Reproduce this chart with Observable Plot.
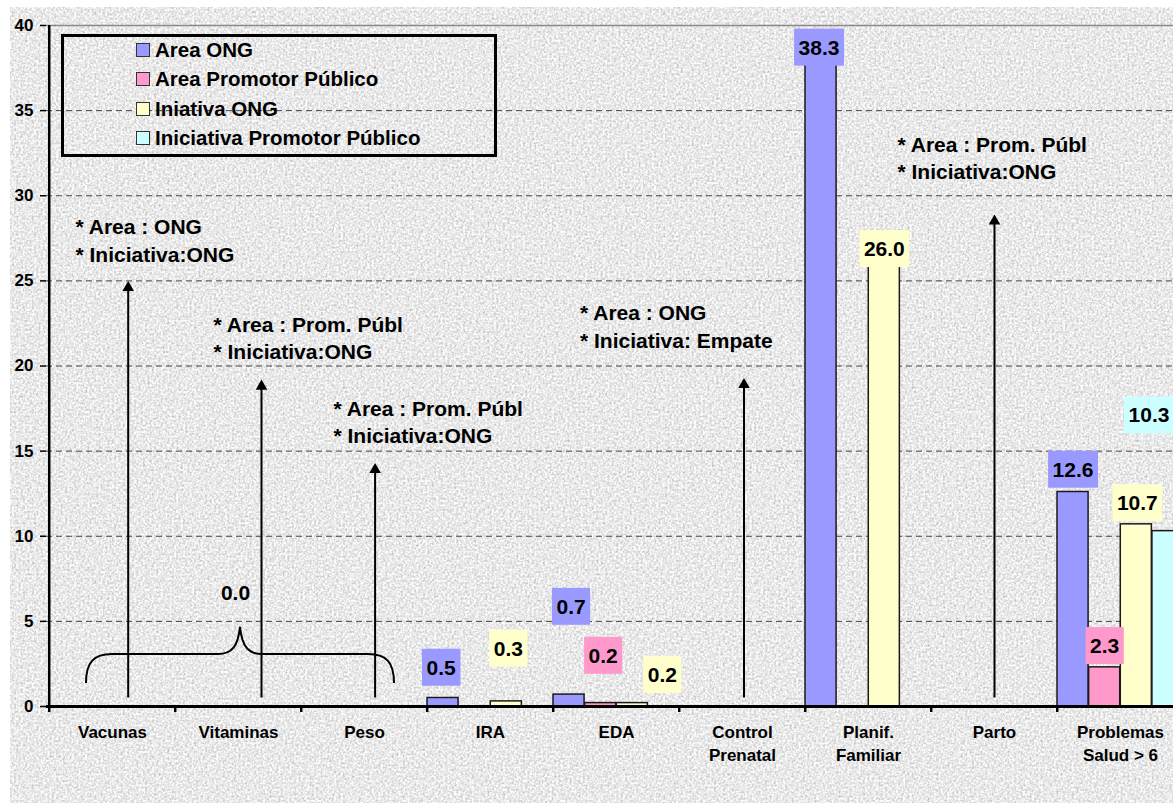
<!DOCTYPE html>
<html>
<head>
<meta charset="utf-8">
<script src="https://cdn.jsdelivr.net/npm/d3@7"></script>
<script src="https://cdn.jsdelivr.net/npm/@observablehq/plot@0.6"></script>
<style>
  html, body { margin: 0; padding: 0; background: #fff; overflow: hidden; }
  #wrap { position: relative; width: 1173px; height: 809px; overflow: hidden; font-family: "Liberation Sans", Arial, sans-serif; }
  #bg { position: absolute; left: 10px; top: 7px; width: 1163px; height: 796px; }
  #chart { position: absolute; left: 0; top: 0; }
  #legend { position: absolute; left: 61px; top: 34px; width: 436px; height: 123px; box-sizing: border-box; border: 3px solid #000; }
  .lg-row { position: absolute; left: 72px; height: 24px; display: flex; align-items: center; font-weight: bold; font-size: 20.5px; color: #000; white-space: nowrap; }
  .lg-sw { width: 12px; height: 12px; border: 1px solid #333; margin-right: 5px; flex: none; }
</style>
</head>
<body>
<div id="wrap"><div id="bg"></div><div id="chart"></div><div id="legend"></div></div>
<script>
// ---------- data ----------
const categories = ["Vacunas", "Vitaminas", "Peso", "IRA", "EDA", "Control\nPrenatal", "Planif.\nFamiliar", "Parto", "Problemas\nSalud > 6"];
const series = ["Area ONG", "Area Promotor Público", "Iniativa ONG", "Iniciativa Promotor Público"];
const areaONG            = [0, 0, 0, 0.5, 0.7, 0, 38.3, 0, 12.6];
const areaPromotor       = [0, 0, 0, 0,   0.2, 0, 0,    0, 2.3];
const iniciativaONG      = [0, 0, 0, 0.3, 0.2, 0, 26.0, 0, 10.7];
const iniciativaPromotor = [0, 0, 0, 0,   0,   0, 0,    0, 10.3];
const seriesValues = [areaONG, areaPromotor, iniciativaONG, iniciativaPromotor];
const colors = ["#9999FF", "#FF99CC", "#FFFFCC", "#CCFFFF"];
const yTicks = [0, 5, 10, 15, 20, 25, 30, 35, 40];

// annotations (text and the value the arrow reaches)
const notes = [
  {category: "Vacunas",          text: "* Area : ONG\n* Iniciativa:ONG",        tip: 25.0},
  {category: "Vitaminas",        text: "* Area : Prom. Públ\n* Iniciativa:ONG", tip: 19.2},
  {category: "Peso",             text: "* Area : Prom. Públ\n* Iniciativa:ONG", tip: 14.3},
  {category: "Control\nPrenatal",text: "* Area : ONG\n* Iniciativa: Empate",    tip: 19.3},
  {category: "Parto",            text: "* Area : Prom. Públ\n* Iniciativa:ONG", tip: 28.9}
];
const zeroSummary = [{category: "Vitaminas", text: "0.0"}];

// ---------- layout ----------
const W = 1173, H = 809;
const xRange = [46, 1185];
const bw = (xRange[1] - xRange[0]) / categories.length;
const q = bw / series.length;
const pxPerUnit = (706 - 25) / 40;
const noteArrowDx = [15.7, 23, 10.6, 1.5, 0];
const noteTextDx = [-37, -25, -31, -162.5, -97];
const noteTextY = [27.45, 21.72, 16.77, 22.4, 32.3];
const arrowBase = 0.5;
const headR = 4.3;
const headOffset = 2 * Math.sqrt(headR * headR * Math.PI / (3 * Math.sqrt(3)));
const zeroLabelY = 6.64;
// label nudges [dx, dy] in pixels, in the order of the non-zero bars
const labelNudge = [[-2,-30],[2,-52.5],[2,-87.5],[2.5,-47],[30,-28],[-2,-6.5],[0,-14.5],[0,-22],[0,-21],[1,-21],[-19,-115.5]];
const LABEL_FILL = "#010101";

const table = categories.flatMap((category, i) => series.map((s, j) => ({category, series: s, j, value: seriesValues[j][i]})));
const bars = table.filter(d => d.value > 0);

// ---------- background texture ----------
const bgSvg = d3.select("#bg").append("svg").attr("width", 1163).attr("height", 796);
const flt = bgSvg.append("defs").append("filter").attr("id", "grain")
  .attr("x", 0).attr("y", 0).attr("width", 1).attr("height", 1)
  .attr("color-interpolation-filters", "sRGB");
flt.append("feTurbulence").attr("type", "fractalNoise").attr("baseFrequency", 0.45).attr("numOctaves", 3).attr("seed", 7);
flt.append("feColorMatrix").attr("type", "saturate").attr("values", 0);
const ct = flt.append("feComponentTransfer");
["R", "G", "B"].forEach(c => ct.append("feFunc" + c).attr("type", "linear").attr("slope", 0.55).attr("intercept", 0.64));
ct.append("feFuncA").attr("type", "linear").attr("slope", 0).attr("intercept", 1);
bgSvg.append("rect").attr("width", 1163).attr("height", 796).attr("filter", "url(#grain)");

// ---------- chart ----------
const chart = Plot.plot({
  width: W, height: H,
  marginLeft: 46, marginRight: 0, marginTop: 25, marginBottom: H - 706,
  style: {background: "transparent", fontFamily: "'Liberation Sans', Arial, sans-serif", fontWeight: "bold", color: "#000", overflow: "hidden"},
  x: {type: "band", domain: categories, range: xRange, padding: 0},
  y: {domain: [0, 40]},
  color: {domain: series, range: colors},
  marks: [
    Plot.ruleY(yTicks.filter(t => t > 0 && t < 40), {stroke: "#444", strokeWidth: 1, strokeDasharray: "6,4"}),
    Plot.ruleY([40], {stroke: "#8a8a8a", strokeWidth: 1.5}),
    ...series.map((s, j) => Plot.barY(bars.filter(d => d.j === j), {
      x: "category", y: "value", fill: "series", stroke: "#1a1a1a", strokeWidth: 1.5,
      insetLeft: j * q, insetRight: (series.length - 1 - j) * q
    })),
    Plot.ruleX([categories[0]], {dx: -bw / 2, y1: 0, y2: 40, stroke: "#000", strokeWidth: 2.5}),
    Plot.axisY({ticks: yTicks, tickSize: 6, tickPadding: 7, fontSize: 17, fontWeight: "bold", stroke: "#000", strokeWidth: 1.5, label: null}),
    Plot.ruleY([0], {stroke: "#000", strokeWidth: 3}),
    Plot.ruleX(categories, {dx: -bw / 2, y1: 0, y2: -6 / pxPerUnit, stroke: "#000", strokeWidth: 2.5}),
    Plot.axisX({tickSize: 0, tickPadding: 15, fontSize: 17, fontWeight: "bold", lineHeight: 1.37, label: null}),
    ...notes.flatMap((n, k) => [
      Plot.ruleX([n], {x: "category", dx: noteArrowDx[k], y1: "tip", y2: arrowBase, insetTop: 5, stroke: "#000", strokeWidth: 2}),
      Plot.dot([n], {x: "category", y: "tip", dx: noteArrowDx[k], dy: headOffset, symbol: "triangle", r: headR, fill: "#000", stroke: "none"}),
      Plot.text([n], {x: "category", y: () => noteTextY[k], text: "text", dx: noteTextDx[k], textAnchor: "start", lineAnchor: "middle", lineHeight: 1.3, fontSize: 21, fontWeight: "bold", fill: "#000"})
    ]),
    Plot.text(zeroSummary, {x: "category", y: () => zeroLabelY, text: "text", dx: -3, lineAnchor: "middle", fontSize: 21, fontWeight: "bold", fill: "#000"}),
    ...bars.map((d, k) => Plot.text([d], {
      x: "category", y: "value", text: v => v.value.toFixed(1),
      dx: (d.j - (series.length - 1) / 2) * q + labelNudge[k][0], dy: labelNudge[k][1],
      lineAnchor: "middle", fontSize: 21, fontWeight: "bold", fill: LABEL_FILL
    }))
  ]
});
document.getElementById("chart").append(chart);

// label boxes behind value labels
d3.select(chart).selectAll(`g[fill="${LABEL_FILL}"] text`).each(function(_, k) {
  const t = this;
  const bb = t.getBBox();
  const cy = bb.y + bb.height / 2;
  d3.select(t.parentNode).insert("rect", () => t)
    .attr("x", bb.x - 4.5).attr("y", cy - 18.5)
    .attr("width", bb.width + 9).attr("height", 37)
    .attr("fill", colors[bars[k].j]).attr("stroke", "none")
    .attr("transform", t.getAttribute("transform"));
  d3.select(t).attr("fill", "#000");
});

// curly brace grouping the three zero categories
const xs = chart.scale("x"), ys = chart.scale("y");
const xc = c => xs.apply(c) + xs.bandwidth / 2;
const x0 = xc(categories[0]) - 26, x1 = xc(categories[2]) + 30, xp = (x0 + x1) / 2;
const yEnd = ys.apply(1.35), yH = ys.apply(3.05), yP = ys.apply(4.65);
d3.select(chart).append("path")
  .attr("d", `M${x0},${yEnd} C${x0},${yH + 8} ${x0 + 8},${yH} ${x0 + 26},${yH} L${xp - 22},${yH} C${xp - 8},${yH} ${xp - 2},${yH - 8} ${xp},${yP} C${xp + 2},${yH - 8} ${xp + 8},${yH} ${xp + 22},${yH} L${x1 - 26},${yH} C${x1 - 8},${yH} ${x1},${yH + 8} ${x1},${yEnd}`)
  .attr("fill", "none").attr("stroke", "#000").attr("stroke-width", 2);

// legend
const lg = d3.select("#legend");
series.forEach((s, j) => {
  const row = lg.append("div").attr("class", "lg-row").style("top", (1 + 29.4 * j) + "px");
  row.append("div").attr("class", "lg-sw").style("background", colors[j]);
  row.append("span").text(s);
});
</script>
</body>
</html>
